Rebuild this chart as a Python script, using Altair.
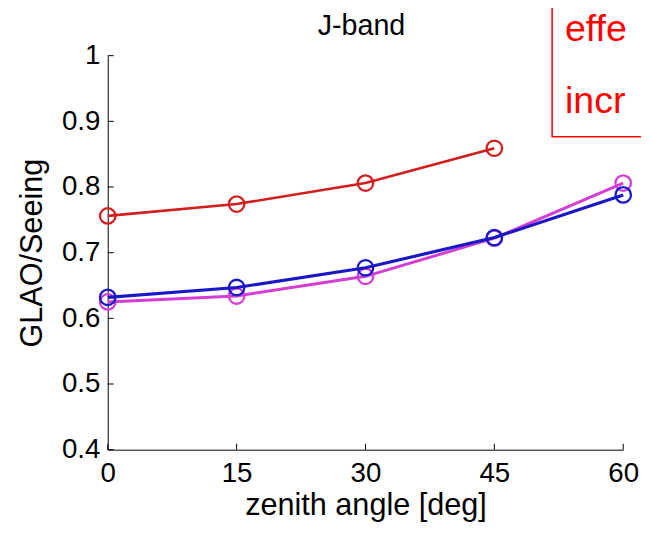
import altair as alt
import pandas as pd

# ---- data ----
zenith = [0, 15, 30, 45, 60]
red_vals = [0.756, 0.774, 0.806, 0.859]
magenta_vals = [0.625, 0.634, 0.664, 0.722, 0.806]
blue_vals = [0.632, 0.647, 0.677, 0.723, 0.788]
x_ticks = [0, 15, 30, 45, 60]
y_ticks = [0.4, 0.5, 0.6, 0.7, 0.8, 0.9, 1.0]
title_text = "J-band"
x_title = "zenith angle [deg]"
y_title = "GLAO/Seeing"
note_lines = ["effe", "incr"]

FONT = "Liberation Sans"
W, H = 522, 399

xs = alt.Scale(domain=[0, 60], nice=False, zero=False)
ys = alt.Scale(domain=[0.4, 1.0], nice=False, zero=False)

xaxis = alt.Axis(values=x_ticks, title=x_title, grid=False, ticks=False,
                 domainColor="black", domainWidth=1,
                 labelFont=FONT, labelFontSize=28, labelColor="black",
                 labelPadding=10, labelFlush=False, labelOverlap=False,
                 titleFont=FONT, titleFontSize=31, titleFontWeight="normal",
                 titleColor="black", titleY=66, titleBaseline="alphabetic")
yaxis = alt.Axis(values=y_ticks, format="~g", title=y_title, grid=False, ticks=False,
                 domainColor="black", domainWidth=1,
                 labelFont=FONT, labelFontSize=28, labelColor="black",
                 labelPadding=8, labelFlush=False, labelOverlap=False,
                 titleFont=FONT, titleFontSize=31, titleFontWeight="normal",
                 titleColor="black", titleX=-67, titleBaseline="alphabetic")


def series(vals, color, sw):
    df = pd.DataFrame({"zenith": zenith[:len(vals)], "ratio": vals})
    base = alt.Chart(df).encode(
        x=alt.X("zenith:Q", scale=xs, axis=xaxis),
        y=alt.Y("ratio:Q", scale=ys, axis=yaxis),
    )
    line = base.mark_line(color=color, strokeWidth=sw)
    pts = base.mark_point(shape="circle", filled=False, color=color,
                          size=245, strokeWidth=2.3, opacity=1)
    return [line, pts]


layers = []
layers += series(red_vals, "#d21e1e", 2.6)
layers += series(magenta_vals, "#d43cd4", 3)
layers += series(blue_vals, "#1818c8", 3.2)

# inward tick marks
xt = alt.Chart(pd.DataFrame({"zenith": x_ticks})).mark_rule(color="black", strokeWidth=1).encode(
    x=alt.X("zenith:Q", scale=xs, axis=xaxis), y=alt.value(H), y2=alt.value(H - 6))
yt = alt.Chart(pd.DataFrame({"ratio": y_ticks})).mark_rule(color="black", strokeWidth=1).encode(
    y=alt.Y("ratio:Q", scale=ys, axis=yaxis), x=alt.value(0), x2=alt.value(6))
layers += [xt, yt]

one = pd.DataFrame({"k": [0]})
title = alt.Chart(one).mark_text(text=title_text, font=FONT, fontSize=29, color="black",
                                 align="center", baseline="alphabetic").encode(
    x=alt.value(257), y=alt.value(-21))
box = alt.Chart(one).mark_rect(fill="white", stroke="#ff0000", strokeWidth=1.5).encode(
    x=alt.value(450), x2=alt.value(720), y=alt.value(-70), y2=alt.value(82))
t1 = alt.Chart(one).mark_text(text=note_lines[0], font=FONT, fontSize=38, color="#ff0000",
                              align="left", baseline="alphabetic").encode(
    x=alt.value(463), y=alt.value(-15))
t2 = alt.Chart(one).mark_text(text=note_lines[1], font=FONT, fontSize=38, color="#ff0000",
                              align="left", baseline="alphabetic").encode(
    x=alt.value(463), y=alt.value(58))
layers += [title, box, t1, t2]

chart = alt.layer(*layers).properties(
    width=W, height=H,
    autosize=alt.AutoSizeParams(type="none"),
    padding={"left": 101, "top": 45, "right": 18, "bottom": 73},
    background="white",
).configure_view(stroke=None)

chart.save("out.html", embed_options={"renderer": "svg", "actions": False})
